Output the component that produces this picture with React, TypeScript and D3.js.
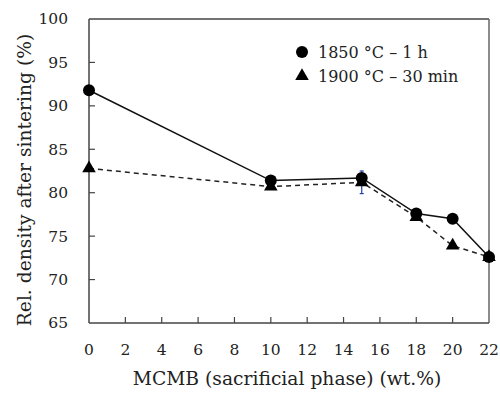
import React from "react";
import * as d3 from "d3";

const xValues = [0, 10, 15, 18, 20, 22];
const series1850 = [91.8, 81.4, 81.7, 77.6, 77.0, 72.6];
const series1900 = [82.8, 80.7, 81.2, 77.2, 73.9, 72.6];
const err1900 = [0.2, 0.2, 1.3, 0.3, 0.3, 0.3];
const xTicks = [0, 2, 4, 6, 8, 10, 12, 14, 16, 18, 20, 22];
const yTicks = [65, 70, 75, 80, 85, 90, 95, 100];
const legendLabels = ["1850 °C – 1 h", "1900 °C – 30 min"];
const xTitle = "MCMB (sacrificial phase) (wt.%)";
const yTitle = "Rel. density after sintering (%)";

const W = 500, H = 394;
const left = 89, right = 489, top = 19, bottom = 323;
const font = "DejaVu Serif";

export default function App() {
  const x = d3.scaleLinear().domain([0, 22]).range([left, right]);
  const y = d3.scaleLinear().domain([65, 100]).range([bottom, top]);
  const line = d3.line<number>().x((_, i) => x(xValues[i])).y((d) => y(d));
  const tri = d3.symbol().type(d3.symbolTriangle).size(80)();

  return (
    <svg width={W} height={H} style={{ position: "absolute", left: 0, top: 0, background: "#fff" }}>
      <line x1={left} x2={right} y1={top} y2={top} stroke="#444" strokeWidth={1.5} />
      <line x1={right} x2={right} y1={top} y2={bottom} stroke="#666" strokeWidth={1.5} />
      <line x1={left} x2={left} y1={top} y2={bottom} stroke="#444" strokeWidth={1.5} />
      <line x1={left} x2={right} y1={bottom} y2={bottom} stroke="#444" strokeWidth={1.5} />
      {yTicks.map((t) => (
        <g key={"y" + t}>
          {t > 65 && t < 100 && (
            <line x1={left} x2={left + 6} y1={y(t)} y2={y(t)} stroke="#444" strokeWidth={1.2} />
          )}
          <text x={68} y={y(t)} dy="0.35em" textAnchor="end" fontFamily={font} fontSize={15.5} fill="#222">
            {t}
          </text>
        </g>
      ))}
      {xTicks.map((t) => (
        <g key={"x" + t}>
          {t > 0 && t < 22 && (
            <line x1={x(t)} x2={x(t)} y1={bottom} y2={bottom - 6} stroke="#444" strokeWidth={1.2} />
          )}
          <text x={x(t)} y={350} dy="0.35em" textAnchor="middle" fontFamily={font} fontSize={15.5} fill="#222">
            {t}
          </text>
        </g>
      ))}
      <text x={287} y={378} dy="0.35em" textAnchor="middle" fontFamily={font} fontSize={18.7} fill="#222">
        {xTitle}
      </text>
      <text
        transform={`translate(24,${180}) rotate(-90)`}
        dy="0.35em"
        textAnchor="middle"
        fontFamily={font}
        fontSize={18.7}
        fill="#222"
      >
        {yTitle}
      </text>
      {err1900.map((e, i) => (
        <g key={"e" + i} stroke="#2040a0" strokeWidth={1.2}>
          <line x1={x(xValues[i])} x2={x(xValues[i])} y1={y(series1900[i] - e)} y2={y(series1900[i] + e)} />
          <line x1={x(xValues[i]) - 2} x2={x(xValues[i]) + 2} y1={y(series1900[i] - e)} y2={y(series1900[i] - e)} />
          <line x1={x(xValues[i]) - 2} x2={x(xValues[i]) + 2} y1={y(series1900[i] + e)} y2={y(series1900[i] + e)} />
        </g>
      ))}
      <path d={line(series1900) || ""} fill="none" stroke="#222" strokeWidth={1.5} strokeDasharray="5,4" />
      <path d={line(series1850) || ""} fill="none" stroke="#111" strokeWidth={1.5} />
      {series1900.map((v, i) => (
        <path key={"t" + i} d={tri || ""} transform={`translate(${x(xValues[i])},${y(v)})`} fill="#000" />
      ))}
      {series1850.map((v, i) => (
        <circle key={"c" + i} cx={x(xValues[i])} cy={y(v)} r={6} fill="#000" />
      ))}
      <circle cx={302} cy={52} r={6} fill="#000" />
      <text x={318} y={52} dy="0.35em" fontFamily={font} fontSize={16} fill="#222">
        {legendLabels[0]}
      </text>
      <path d={tri || ""} transform="translate(302,76)" fill="#000" />
      <text x={318} y={76} dy="0.35em" fontFamily={font} fontSize={16} fill="#222">
        {legendLabels[1]}
      </text>
    </svg>
  );
}
